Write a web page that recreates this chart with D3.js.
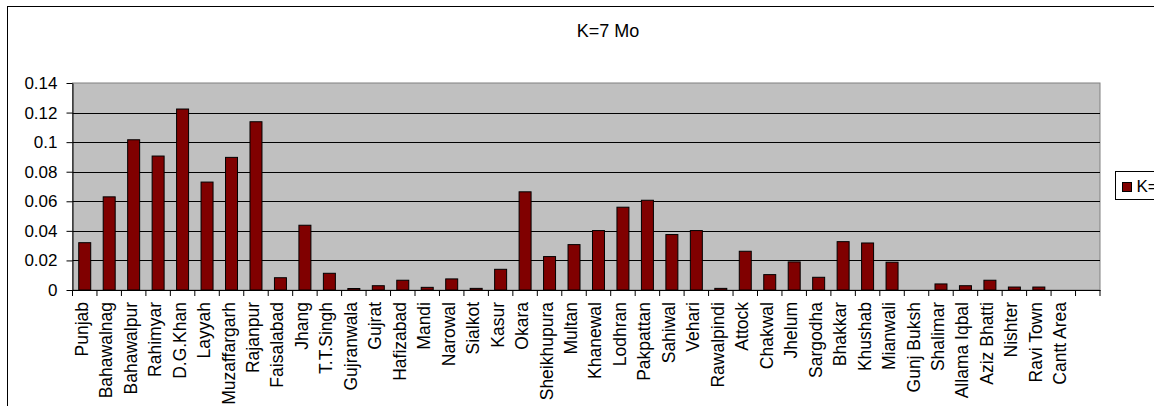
<!DOCTYPE html>
<html>
<head>
<meta charset="utf-8">
<script src="https://cdn.jsdelivr.net/npm/d3@7"></script>
<style>
  body { margin: 0; background: #fff; }
  svg { display: block; font-family: "Liberation Sans", Arial, sans-serif; }
</style>
</head>
<body>
<svg id="chart" width="1154" height="406"></svg>
<script>
// district names (last slot has no label in the original)
var districts = ["Punjab", "Bahawalnag", "Bahawalpur", "Rahimyar", "D.G.Khan", "Layyah",
    "Muzaffargarh", "Rajanpur", "Faisalabad", "Jhang", "T.T.Singh", "Gujranwala", "Gujrat",
    "Hafizabad", "Mandi", "Narowal", "Sialkot", "Kasur", "Okara", "Sheikhupura", "Multan",
    "Khanewal", "Lodhran", "Pakpattan", "Sahiwal", "Vehari", "Rawalpindi", "Attock", "Chakwal",
    "Jhelum", "Sargodha", "Bhakkar", "Khushab", "Mianwali", "Gunj Buksh", "Shalimar",
    "Allama Iqbal", "Aziz Bhatti", "Nishter", "Ravi Town", "Cantt Area", ""];

var k7Values = [0.032, 0.063, 0.1016, 0.0906, 0.1224, 0.073,
    0.0897, 0.1138, 0.0083, 0.0438, 0.0113, 0.001, 0.0029,
    0.0066, 0.0018, 0.0075, 0.0011, 0.014, 0.0664, 0.0226, 0.0307,
    0.0402, 0.056, 0.0607, 0.0375, 0.0402, 0.0011, 0.0262, 0.0104,
    0.019, 0.0086, 0.0327, 0.0318, 0.0188, 0, 0.0041,
    0.0029, 0.0066, 0.002, 0.002, 0, 0];

var yTicks = [0, 0.02, 0.04, 0.06, 0.08, 0.1, 0.12, 0.14];
var yTickLabels = ["0", "0.02", "0.04", "0.06", "0.08", "0.1", "0.12", "0.14"];

var seriesName = "K=7 Mo";
var fontStack = '"Liberation Sans", Arial, sans-serif';

drawChart();

function drawChart() {
    var svg = d3.select("#chart");
    var margin = { top: 83, left: 72.5 },
        width = 1027.5,
        height = 207;

    // outer chart border (runs off the right and bottom edge)
    svg.append("rect")
        .attr("x", 7.5).attr("y", 6.5)
        .attr("width", 1200).attr("height", 420)
        .attr("fill", "#fff")
        .attr("stroke", "#000");

    svg.append("text")
        .attr("x", 608)
        .attr("y", 37)
        .attr("text-anchor", "middle")
        .style("font-size", "18px")
        .text(seriesName);

    var data = districts.map(function(d, i) { return { name: d, key: i, value: k7Values[i] }; });

    var x = d3.scaleBand()
        .domain(data.map(function(d) { return d.key; }))
        .range([0, width])
        .padding(0);

    var y = d3.scaleLinear()
        .domain([0, 0.14])
        .range([height, 0]);

    var g = svg.append("g")
        .attr("transform", "translate(" + margin.left + "," + margin.top + ")");

    g.append("rect")
        .attr("width", width)
        .attr("height", height)
        .attr("fill", "#c0c0c0")
        .attr("stroke", "#808080");

    // gridlines
    g.append("g")
        .selectAll("line")
        .data(yTicks.filter(function(t) { return t > 0 && t < 0.14; }))
        .enter().append("line")
        .attr("x1", 0).attr("x2", width)
        .attr("y1", function(d) { return Math.round(y(d)) + 0.5; })
        .attr("y2", function(d) { return Math.round(y(d)) + 0.5; })
        .attr("stroke", "#000");

    var barW = x.bandwidth() * 0.49;
    g.append("g")
        .selectAll("rect")
        .data(data.filter(function(d) { return d.value > 0; }))
        .enter().append("rect")
        .attr("x", function(d) { return x(d.key) + (x.bandwidth() - barW) / 2; })
        .attr("y", function(d) { return y(d.value); })
        .attr("width", barW)
        .attr("height", function(d) { return height - y(d.value); })
        .attr("fill", "#800000")
        .attr("stroke", "#000")
        .attr("stroke-width", 1);

    // y axis
    var yAxis = g.append("g")
        .call(d3.axisLeft(y)
            .tickValues(yTicks)
            .tickFormat(function(d, i) { return yTickLabels[i]; })
            .tickSize(6)
            .tickSizeOuter(0)
            .tickPadding(9));
    yAxis.attr("font-family", null).attr("font-size", null);
    yAxis.selectAll("text")
        .style("font-family", fontStack)
        .style("font-size", "17px")
        .attr("fill", "#000");
    yAxis.selectAll("line, path").attr("stroke", "#000");

    // x axis: labels centred on bands, ticks on band edges
    var xAxis = g.append("g")
        .attr("transform", "translate(0," + height + ")")
        .call(d3.axisBottom(x)
            .tickFormat(function(d) { return districts[d]; })
            .tickSize(0)
            .tickSizeOuter(0));
    xAxis.attr("font-family", null).attr("font-size", null);
    xAxis.select(".domain").attr("stroke", "#000");
    xAxis.selectAll("text")
        .style("font-family", fontStack)
        .style("font-size", "17.5px")
        .attr("fill", "#000")
        .attr("transform", "rotate(-90)")
        .attr("text-anchor", "end")
        .attr("x", -12)
        .attr("y", 0)
        .attr("dy", 3);

    var edges = x.domain().map(function(d) { return x(d); }).concat([width]);
    xAxis.append("g")
        .selectAll("line")
        .data(edges)
        .enter().append("line")
        .attr("x1", function(d) { return d; })
        .attr("x2", function(d) { return d; })
        .attr("y1", 0).attr("y2", 6)
        .attr("stroke", "#000");

    // legend, cut off by the window edge like the original
    var legend = svg.append("g").attr("transform", "translate(1115.5,171.5)");
    legend.append("rect")
        .attr("width", 90).attr("height", 28)
        .attr("fill", "#fff").attr("stroke", "#000");
    legend.append("rect")
        .attr("x", 7).attr("y", 11)
        .attr("width", 9).attr("height", 9)
        .attr("fill", "#800000").attr("stroke", "#000");
    legend.append("text")
        .attr("x", 21).attr("y", 20.5)
        .style("font-size", "17px")
        .text(seriesName);
}
</script>
</body>
</html>
